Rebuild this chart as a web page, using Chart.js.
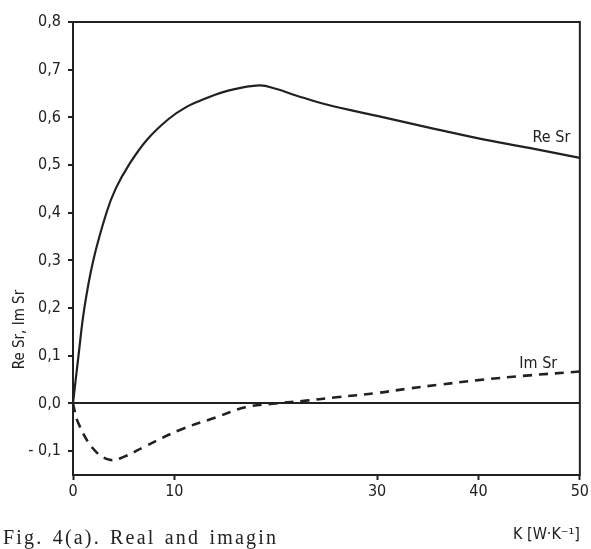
<!DOCTYPE html>
<html>
<head>
<meta charset="utf-8">
<script src="https://cdn.jsdelivr.net/npm/chart.js@4"></script>
<style>
    body { margin: 0; background: #fff; }
    #wrap { position: relative; width: 591px; height: 549px; }
    #caption { position: absolute; left: 3px; top: 526px; font-family: 'Liberation Serif', serif; font-size: 20px; letter-spacing: 2.2px; word-spacing: 2px; color: #222; white-space: nowrap; }
</style>
</head>
<body>
<div id="wrap">
    <canvas id="myChart" width="591" height="549"></canvas>
    <div id="caption">Fig. 4(a). Real and imagin</div>
</div>
<script>
// values
var reK = [0, 0.54, 1.12, 2.0, 3.3, 4.2, 5.5, 7.3, 9.4, 11.2, 13, 15.5, 18.4, 20, 22, 25, 30, 35, 40, 45, 50];
var reSr = [0, 0.1, 0.2, 0.3, 0.4, 0.45, 0.5, 0.553, 0.596, 0.622, 0.639, 0.657, 0.667, 0.66, 0.646, 0.627, 0.603, 0.579, 0.556, 0.536, 0.515];
var imK = [0, 0.5, 2, 3.6, 5, 7.1, 10.6, 14, 17, 20, 23, 26, 30, 33, 36, 40, 45, 50];
var imSr = [0, -0.04, -0.095, -0.118, -0.112, -0.09, -0.055, -0.03, -0.008, 0, 0.006, 0.013, 0.022, 0.031, 0.039, 0.049, 0.059, 0.067];
var xTickValues = [0, 10, 30, 40, 50];
var xTickLabels = ['0', '10', '30', '40', '50'];
var yTickValues = [-0.1, 0, 0.1, 0.2, 0.3, 0.4, 0.5, 0.6, 0.7, 0.8];
var yTickLabels = ['- 0,1', '0,0', '0,1', '0,2', '0,3', '0,4', '0,5', '0,6', '0,7', '0,8'];

var ink = '#212121';
var tickFont = { family: "'Liberation Sans Narrow', 'DejaVu Sans Condensed', sans-serif", size: 16 };

function toPoints(xs, ys) {
    return xs.map((x, i) => ({ x: x, y: ys[i] }));
}

var frameAndLabels = {
    id: 'frameAndLabels',
    afterDraw(chart) {
        let ctx = chart.ctx;
        let a = chart.chartArea;
        let xs = chart.scales.x, ys = chart.scales.y;
        ctx.save();
        ctx.strokeStyle = ink;
        ctx.lineWidth = 2;
        ctx.strokeRect(a.left, a.top, a.right - a.left, a.bottom - a.top);

        ctx.fillStyle = ink;
        ctx.font = "16px 'DejaVu Sans Condensed', sans-serif";
        ctx.textAlign = 'center';
        ctx.textBaseline = 'middle';
        ctx.fillText('Re Sr', xs.getPixelForValue(47.2), ys.getPixelForValue(0.558));
        ctx.fillText('Im Sr', xs.getPixelForValue(45.9), ys.getPixelForValue(0.084));

        // y axis title sits low on the page in the original
        ctx.translate(20, ys.getPixelForValue(0.155));
        ctx.rotate(-Math.PI / 2);
        ctx.font = "15px 'DejaVu Sans Condensed', sans-serif";
        ctx.fillText('Re Sr, Im Sr', 0, 0);
        ctx.restore();
    }
};

let ctx = document.getElementById('myChart');
new Chart(ctx, {
    type: 'line',
    data: {
        datasets: [{
            label: 'Re Sr',
            data: toPoints(reK, reSr),
            borderColor: ink,
            borderWidth: 2.2,
            pointRadius: 0,
            tension: 0.4
        }, {
            label: 'Im Sr',
            data: toPoints(imK, imSr),
            borderColor: ink,
            borderWidth: 2.6,
            borderDash: [9, 7],
            pointRadius: 0,
            tension: 0.4
        }]
    },
    options: {
        responsive: false,
        animation: false,
        layout: { padding: { top: 22, right: 9, left: 0, bottom: 0 } },
        plugins: {
            legend: { display: false },
            tooltip: { enabled: false }
        },
        scales: {
            x: {
                type: 'linear',
                min: 0,
                max: 50,
                afterFit: (s) => { s.height = 74; },
                afterBuildTicks: (s) => { s.ticks = xTickValues.map(v => ({ value: v })); },
                ticks: {
                    color: ink,
                    font: tickFont,
                    padding: 2,
                    callback: (v) => xTickLabels[xTickValues.indexOf(v)]
                },
                grid: { drawOnChartArea: false, tickLength: 5, tickColor: ink, tickWidth: 2 },
                border: { color: ink, width: 2 },
                title: {
                    display: true,
                    text: 'K [W·K⁻¹]',
                    align: 'end',
                    color: ink,
                    font: { family: "'DejaVu Sans Condensed', sans-serif", size: 16 },
                    padding: { top: 4, bottom: 5 }
                }
            },
            y: {
                type: 'linear',
                min: -0.15,
                max: 0.8,
                afterFit: (s) => { s.width = 73; },
                afterBuildTicks: (s) => { s.ticks = yTickValues.map(v => ({ value: v })); },
                ticks: {
                    color: ink,
                    font: tickFont,
                    padding: 7,
                    callback: (v) => yTickLabels[yTickValues.findIndex(t => Math.abs(t - v) < 1e-6)]
                },
                grid: {
                    color: (c) => (c.tick && Math.abs(c.tick.value) < 1e-6) ? ink : 'rgba(0,0,0,0)',
                    lineWidth: 2,
                    tickLength: 5,
                    tickColor: ink,
                    tickWidth: 2
                },
                border: { color: ink, width: 2 }
            }
        }
    },
    plugins: [frameAndLabels]
});
</script>
</body>
</html>
